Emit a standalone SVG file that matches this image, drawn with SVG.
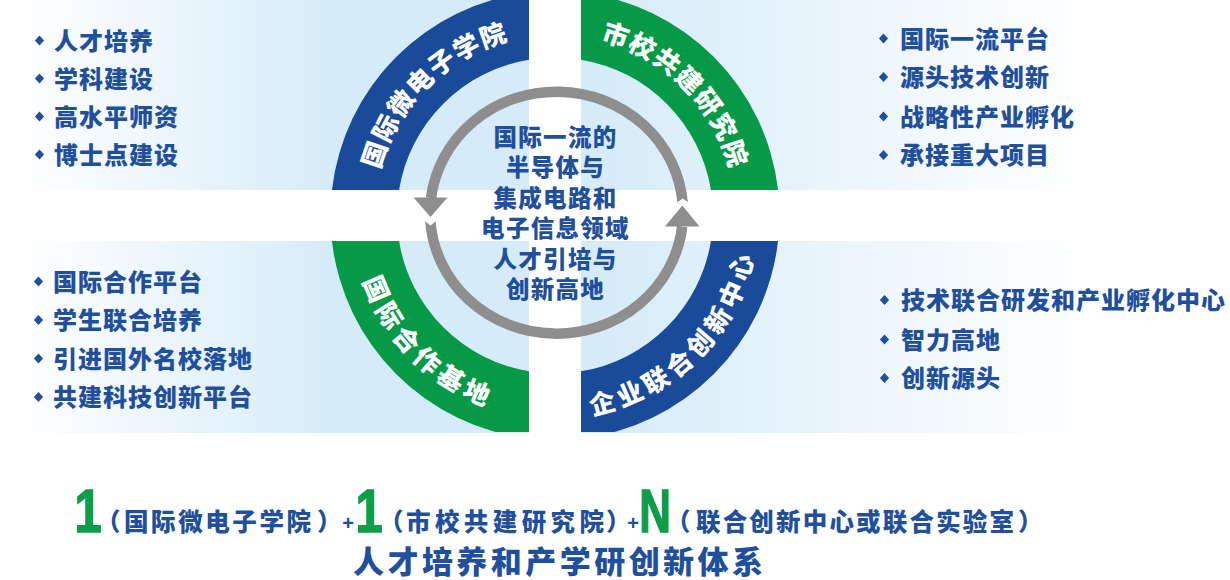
<svg xmlns="http://www.w3.org/2000/svg" xmlns:xlink="http://www.w3.org/1999/xlink" width="1230" height="580" viewBox="0 0 1230 580">
<style>
.li{font-family:"Noto Sans CJK SC","Noto Sans",sans-serif;font-weight:900;font-size:24px;letter-spacing:1px;fill:#1f4f9d}
.ct{font-family:"Noto Sans CJK SC","Noto Sans",sans-serif;font-weight:900;font-size:23.5px;letter-spacing:1.3px;fill:#1f4f9d;text-anchor:middle}
.bl{font-family:"Noto Sans CJK SC","Noto Sans",sans-serif;font-weight:900;font-size:26px;fill:#ffffff}
.sm{font-family:"Noto Sans CJK SC","Noto Sans",sans-serif;font-weight:900;font-size:24.5px;fill:#1f4f9d}
.tt{font-family:"Noto Sans CJK SC","Noto Sans",sans-serif;font-weight:900;font-size:31px;fill:#1f4f9d}
.big{font-family:"Liberation Sans","Noto Sans",sans-serif;font-weight:700;font-size:61px;fill:#0e9d48;stroke:#0e9d48;stroke-width:1.5px;text-anchor:middle}
.plus{font-family:"Liberation Sans","Noto Sans",sans-serif;font-weight:700;font-size:20px;fill:#1f4f9d;text-anchor:middle}
.blue{fill:#1a4a9a}
.green{fill:#069a48}
.arc{fill:none;stroke:#8e8e8e;stroke-width:10.5}
.ah{fill:#8e8e8e}
</style>
<defs>
<linearGradient id="gL" gradientUnits="userSpaceOnUse" x1="15" y1="0" x2="340" y2="0">
<stop offset="0" stop-color="#ffffff"/>
<stop offset="1" stop-color="#d5ebf8"/>
</linearGradient>
<linearGradient id="gR" gradientUnits="userSpaceOnUse" x1="590" y1="0" x2="1090" y2="0">
<stop offset="0" stop-color="#d5ebf8"/>
<stop offset="1" stop-color="#ffffff"/>
</linearGradient>
<path id="dia" d="M0,-5 L4.6,0 L0,5 L-4.6,0 Z" fill="#1f4f9d"/>
<clipPath id="clipB"><rect x="0" y="0" width="1230" height="432"/></clipPath>
<path id="pTL" d="M374,215.5 A181,181 0 0 1 555,34.5"/>
<path id="pTR" d="M555,34.5 A181,181 0 0 1 736,215.5"/>
<path id="pBL" d="M352,215.5 A203,203 0 0 0 555,418.5"/>
<path id="pBR" d="M555,418.5 A203,203 0 0 0 758,215.5"/>
</defs>

<g id="panels">
<rect x="0" y="0" width="529" height="190" fill="url(#gL)"/>
<rect x="0" y="241" width="529" height="192" fill="url(#gL)"/>
<rect x="581" y="0" width="649" height="190" fill="url(#gR)"/>
<rect x="581" y="241" width="649" height="192" fill="url(#gR)"/>
</g>

<g id="node-micro-institute">
<path class="blue" d="M331.95,190 A224.5,224.5 0 0 1 529,-7.5 L529,59.65 A158,158 0 0 0 399.07,190 Z"/>
<text class="bl" letter-spacing="1.5"><textPath href="#pTL" startOffset="50%" text-anchor="middle">国际微电子学院</textPath></text>
</g>

<g id="node-research-institute">
<path class="green" d="M581,-7.5 A224.5,224.5 0 0 1 778.05,190 L710.93,190 A158,158 0 0 0 581,59.65 Z"/>
<text class="bl" letter-spacing="1.5"><textPath href="#pTR" startOffset="50%" text-anchor="middle">市校共建研究院</textPath></text>
</g>

<g id="node-intl-base" clip-path="url(#clipB)">
<path class="green" d="M331.95,241 L399.07,241 A158,158 0 0 0 529,371.35 L529,438.5 A224.5,224.5 0 0 1 331.95,241 Z"/>
<text class="bl" letter-spacing="5"><textPath href="#pBL" startOffset="50%" text-anchor="middle">国际合作基地</textPath></text>
</g>

<g id="node-joint-center" clip-path="url(#clipB)">
<path class="blue" d="M581,371.35 A158,158 0 0 0 710.93,241 L778.05,241 A224.5,224.5 0 0 1 581,438.5 Z"/>
<text class="bl" letter-spacing="4.5"><textPath href="#pBR" startOffset="50%" text-anchor="middle">企业联合创新中心</textPath></text>
</g>

<g id="connectors">
<path class="arc" d="M682.7,203.5 A126.5,121 0 0 0 431,198"/>
<polygon class="ah" points="413.5,197.5 447.5,197.5 430.5,217"/>
<path class="arc" d="M430.3,220.5 A126.5,121 0 0 0 682.2,226.5"/>
<polygon class="ah" points="665,226.5 699.5,226.5 682.3,205.5"/>
<polygon points="423.5,220 437.5,220 430.5,225.5" fill="#ffffff"/>
<polygon points="675.5,203.8 690,203.8 682.7,198.5" fill="#ffffff"/>
</g>

<g id="node-center">
<text class="ct" x="555.5" y="145.5">国际一流的</text>
<text class="ct" x="555.5" y="176">半导体与</text>
<text class="ct" x="555.5" y="206.5">集成电路和</text>
<text class="ct" x="555.5" y="237">电子信息领域</text>
<text class="ct" x="555.5" y="267.5">人才引培与</text>
<text class="ct" x="555.5" y="298">创新高地</text>
</g>

<g id="list-top-left">
<use href="#dia" x="39.5" y="40.5"/>
<use href="#dia" x="39.5" y="78.5"/>
<use href="#dia" x="39.5" y="116.5"/>
<use href="#dia" x="39.5" y="154.5"/>
<text class="li" x="54" y="49.5">人才培养</text>
<text class="li" x="54" y="87.5">学科建设</text>
<text class="li" x="54" y="125.5">高水平师资</text>
<text class="li" x="54" y="163.5">博士点建设</text>
</g>

<g id="list-top-right">
<use href="#dia" x="883.5" y="38.5"/>
<use href="#dia" x="883.5" y="77"/>
<use href="#dia" x="883.5" y="116.5"/>
<use href="#dia" x="883.5" y="155"/>
<text class="li" x="900" y="47.5">国际一流平台</text>
<text class="li" x="900" y="86">源头技术创新</text>
<text class="li" x="900" y="125.5">战略性产业孵化</text>
<text class="li" x="900" y="164">承接重大项目</text>
</g>

<g id="list-bottom-left">
<use href="#dia" x="38.5" y="281.5"/>
<use href="#dia" x="38.5" y="320"/>
<use href="#dia" x="38.5" y="358.5"/>
<use href="#dia" x="38.5" y="397"/>
<text class="li" x="53" y="290.5">国际合作平台</text>
<text class="li" x="53" y="329">学生联合培养</text>
<text class="li" x="53" y="367.5">引进国外名校落地</text>
<text class="li" x="53" y="406">共建科技创新平台</text>
</g>

<g id="list-bottom-right">
<use href="#dia" x="884.5" y="300"/>
<use href="#dia" x="884.5" y="339.5"/>
<use href="#dia" x="884.5" y="378"/>
<text class="li" x="901" y="309">技术联合研发和产业孵化中心</text>
<text class="li" x="901" y="348.5">智力高地</text>
<text class="li" x="901" y="387">创新源头</text>
</g>

<g id="summary">
<text class="big" transform="translate(88,532) scale(0.8,1)">1</text>
<text class="sm" x="96" y="531">（</text>
<text class="sm" x="124" y="531" textLength="187" lengthAdjust="spacing">国际微电子学院</text>
<text class="sm" x="317" y="531">）</text>
<text class="plus" x="348" y="530">+</text>
<text class="big" transform="translate(369,532) scale(0.8,1)">1</text>
<text class="sm" x="379" y="531">（</text>
<text class="sm" x="406" y="531" textLength="198" lengthAdjust="spacing">市校共建研究院</text>
<text class="sm" x="606" y="531">）</text>
<text class="plus" x="633" y="530">+</text>
<text class="big" transform="translate(655,532) scale(0.72,1)">N</text>
<text class="sm" x="666" y="531">（</text>
<text class="sm" x="696" y="531" textLength="318" lengthAdjust="spacing">联合创新中心或联合实验室</text>
<text class="sm" x="1018" y="531">）</text>
<text class="tt" x="353" y="573" textLength="410" lengthAdjust="spacing">人才培养和产学研创新体系</text>
</g>
</svg>
